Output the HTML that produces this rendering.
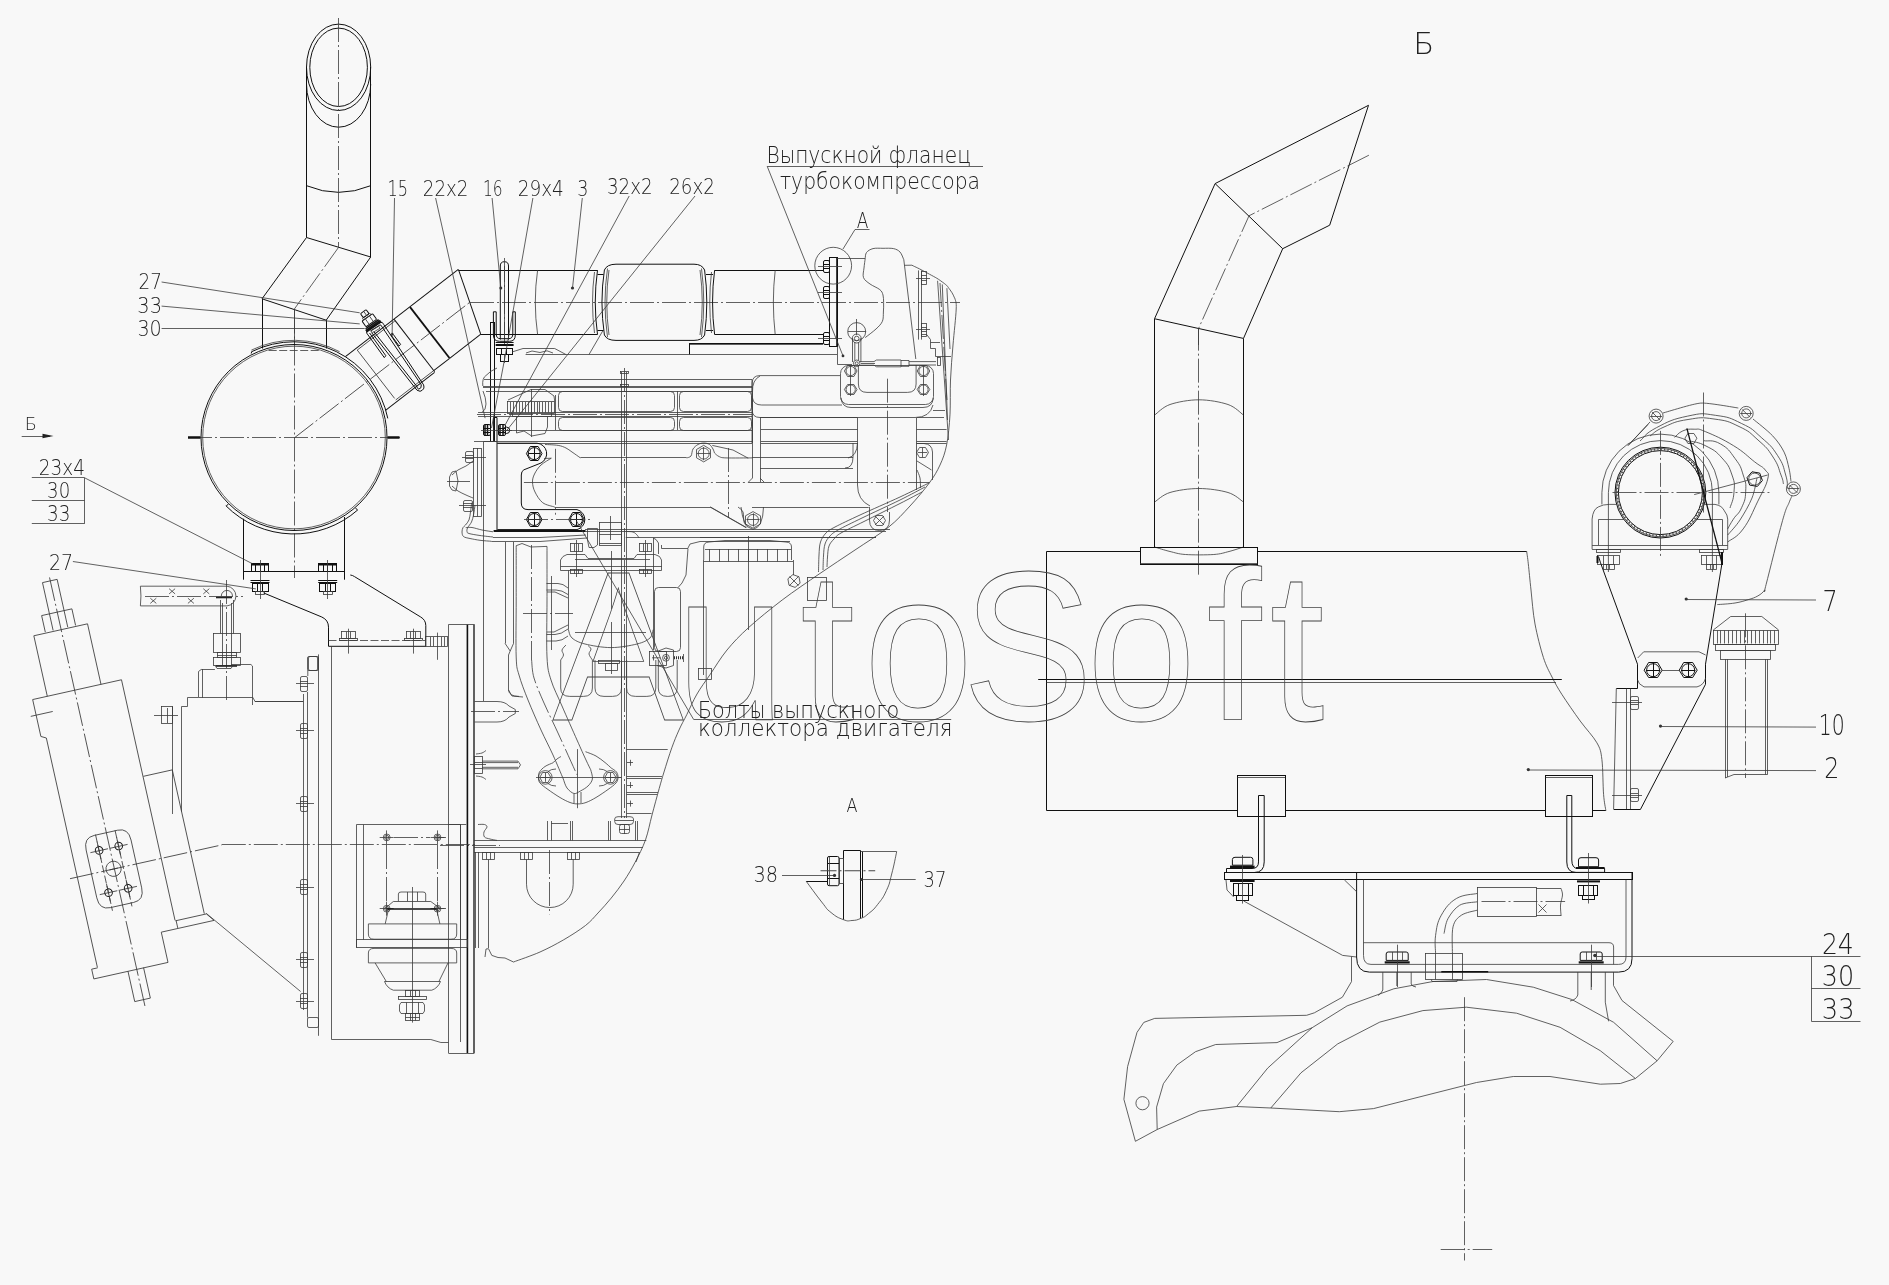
<!DOCTYPE html>
<html><head><meta charset="utf-8"><title>Drawing</title>
<style>
html,body{margin:0;padding:0;background:#f8f8f8;overflow:hidden}
svg{display:block;opacity:0.999;will-change:transform}
.m{fill:none;stroke:#111;stroke-width:1}
.t{fill:none;stroke:#3a3a3a;stroke-width:0.8}
.c{fill:none;stroke:#3a3a3a;stroke-width:0.8;stroke-dasharray:24 3 2 3}
.cs{fill:none;stroke:#3a3a3a;stroke-width:0.8;stroke-dasharray:8 2.5}
text{font-family:"DejaVu Sans Light","DejaVu Sans ExtraLight","Liberation Sans",sans-serif;font-weight:200;fill:#222}
.wm{font-family:"Liberation Sans",sans-serif;font-weight:400;fill:none;stroke:#444;stroke-width:0.8}
</style></head><body>
<svg width="1889" height="1285" viewBox="0 0 1889 1285">
<rect width="1889" height="1285" fill="#f8f8f8"/>
<path class="m" d="M306.5 84 A32.1 43.2 0 0 0 370.7 84"/>
<ellipse class="m" style="fill:#f8f8f8" cx="338.6" cy="67.3" rx="32.1" ry="43.2"/>
<ellipse class="m" cx="338.6" cy="67.3" rx="28.8" ry="39.2" />
<path class="m" d="M306.5 67 L306.5 237.5"/>
<path class="m" d="M370.5 67 L370.5 257"/>
<path class="m" d="M306.5 185.7 Q338.6 199 370.7 185.7"/>
<path class="m" d="M306.5 237.5 L370.7 257"/>
<path class="m" d="M306.5 237.5 L262 298.8"/>
<path class="m" d="M370.7 257 L326.2 320.2"/>
<path class="m" d="M262 298.8 L326.2 320.2"/>
<path class="m" d="M262.5 298.8 L262.5 348.5"/>
<path class="m" d="M326.5 320.2 L326.5 348.5"/>
<path class="c" d="M338.5 18 L338.5 247.3"/>
<path class="c" d="M338.6 247.3 L294 309.5"/>
<path class="c" d="M294.5 309.5 L294.5 578"/>
<path class="t" d="M294.5 309.5 L294.5 345"/>
<circle class="m" cx="294" cy="437.5" r="93"/>
<circle class="t" cx="294" cy="437.5" r="91.3"/>
<path class="m" d="M252 351.5 A95.7 95.7 0 0 1 387.8 418.4"/>
<path class="t" d="M251.4 350.1 A97.2 97.2 0 0 1 339.6 351.7"/>
<path class="m" d="M251.8 351.3 L251.2 353.5"/>
<path class="cs" d="M268.7 350.5 L320.6 350.5"/>
<path class="c" d="M188 437.5 L400 437.5"/>
<path d="M188 437.5 H200.5 M387.5 437.5 H399.5" stroke="#111" stroke-width="2.6" fill="none"/>
<path class="m" d="M357.9 509.8 A96.5 96.5 0 0 1 225.8 505.7"/>
<path class="m" d="M226.4 506 L228.3 504"/>
<path class="m" d="M357.2 509.9 L355.5 507.8"/>
<path class="m" d="M243.5 518.7 L243.5 579.7"/>
<path class="m" d="M344.5 517 L344.5 579.7"/>
<path class="m" d="M243.2 571.5 L344.7 571.5"/>
<rect class="m" x="251.5" y="563.5" width="17" height="8"/>
<path class="m" d="M255.5 563.3 L255.5 571.1"/>
<path class="m" d="M260.5 563.3 L260.5 571.1"/>
<path class="m" d="M264.5 563.3 L264.5 571.1"/>
<path d="M251.2 564.5 H268.8" stroke="#111" stroke-width="2" fill="none"/>
<path class="m" d="M250.5 580.5 L269.5 580.5"/>
<path class="m" d="M250.5 582.5 L269.5 582.5"/>
<rect class="m" x="252.5" y="583.5" width="16" height="8"/>
<path class="m" d="M257.5 583 L257.5 591.4"/>
<path class="m" d="M262.5 583 L262.5 591.4"/>
<rect class="t" x="255.5" y="591.5" width="9" height="3"/>
<path class="t" d="M260.5 560 L260.5 599"/>
<rect class="m" x="318.5" y="563.5" width="18" height="8"/>
<path class="m" d="M323.5 563.3 L323.5 571.1"/>
<path class="m" d="M327.5 563.3 L327.5 571.1"/>
<path class="m" d="M332.5 563.3 L332.5 571.1"/>
<path d="M318.9 564.5 H336.5" stroke="#111" stroke-width="2" fill="none"/>
<path class="m" d="M318.2 580.5 L337.2 580.5"/>
<path class="m" d="M318.2 582.5 L337.2 582.5"/>
<rect class="m" x="319.5" y="583.5" width="16" height="8"/>
<path class="m" d="M325.5 583 L325.5 591.4"/>
<path class="m" d="M330.5 583 L330.5 591.4"/>
<rect class="t" x="323.5" y="591.5" width="9" height="3"/>
<path class="t" d="M327.5 560 L327.5 599"/>
<g transform="translate(294 437.5) rotate(-37.7)">
<path class="m" d="M90.1 -32.5 L232.8 -32.5"/>
<path class="m" d="M211 32.5 L171.6 32.5"/>
<path d="M171.6 -32.2 V32.2" stroke="#111" stroke-width="1.8" fill="none"/>
<path class="m" d="M151.5 -32.2 L151.5 34"/>
<path class="m" d="M171.6 32.5 L151 32.5"/>
<path class="m" d="M151 34.5 L89 34.5"/>
<path class="t" d="M151 32.5 L103.4 32.5"/>
<path class="t" d="M103.5 -30.5 L103.5 30.6"/>
<path class="t" d="M103.4 -30.5 L151 -30.5"/>
<path class="c" d="M0 0.5 L222 0.5"/>
<path class="m" d="M232.8 -32.2 L211 32.2"/>
</g>
<path class="m" d="M384.3 357.6 L366.7 333.1 Q366 330.8 368.3 329.6 L380 322.6 Q382.7 321.4 383.6 324.3 L423.6 384.9 Q425.2 389.6 420.1 391.3 Q416.6 391.1 414.6 387.2 L371.5 332.5"/>
<path class="m" d="M385.8 355.7 L369.6 333 M370.4 331 L380 324.9 Q381 324.7 381.5 326.1 L421.3 384.9 Q421.8 388.6 418.5 389.2 Q417.3 388 416.6 386.1 L373.8 331.5"/>
<path class="m" d="M384.3 357.6 L385.8 355.7"/>
<path class="t" d="M371 330.8 L378.8 326.3 L380 328.2 L372.6 332.7 Z"/>
<path class="m" d="M390.5 334.3 L399.1 346 L400.6 344.4 L393.2 334.3"/>
<g transform="translate(374.5 327.6) rotate(-125)">
<path d="M1 -9 V9 M2.6 -9 V9 M4.2 -8 V8" stroke="#111" stroke-width="1.5" fill="none"/>
<rect class="m" x="5.5" y="-6.5" width="7" height="13" rx="1"/>
<path class="t" d="M5 -2.5 L12 -2.5"/>
<path class="t" d="M5 2.5 L12 2.5"/>
<rect class="t" x="12.5" y="-4.5" width="2" height="9"/>
<rect class="m" x="14.5" y="-3.5" width="5" height="7" rx="1"/>
<path class="t" d="M14 0.5 L19.5 0.5"/>
</g>
<path class="m" d="M458.5 270.5 L597.5 270.5"/>
<path class="m" d="M480.6 334.5 L597.5 334.5"/>
<path class="c" d="M470 302.5 L960 302.5"/>
<path class="t" d="M537.6 270.2 Q533 302 537.6 334.5"/>
<path class="m" d="M597.5 270.2 Q593 302 597.5 334.5"/>
<path class="t" d="M594.5 272 Q590.5 302 594.5 333"/>
<path class="m" d="M597.5 274.5 L603.5 274.5"/>
<path class="m" d="M597.5 330.5 L603.5 330.5"/>
<path class="m" d="M604.4 270 Q599.5 302 604.4 335"/>
<path class="t" d="M607.5 268.5 Q602.5 302 607.5 337"/>
<path class="t" d="M609 270 Q604.5 302 609 335"/>
<path class="m" d="M604.4 270 Q607 264.2 616 264.2 H694 Q702 264.2 704.6 270"/>
<path class="m" d="M604.4 335 Q607 340.4 616 340.4 H694 Q702 340.4 704.6 335"/>
<path class="m" d="M704.6 270 Q709 302 704.6 335"/>
<path class="t" d="M701.5 268.5 Q706 302 701.5 337"/>
<path class="t" d="M700 270 Q704.5 302 700 335"/>
<path class="m" d="M706 274.5 L713 274.5"/>
<path class="m" d="M706 330.5 L713 330.5"/>
<path class="m" d="M714.6 270.3 Q710.5 302 714.6 334.5"/>
<path class="t" d="M711.5 272 Q708 302 711.5 333"/>
<path class="m" d="M714.6 270.5 L823 270.5"/>
<path class="m" d="M714.6 334.5 L823 334.5"/>
<path class="t" d="M775.2 270.3 Q771.5 302 775.2 334.5"/>
<rect class="m" x="829.5" y="257.5" width="8" height="89"/>
<path d="M837 258 V346.5" stroke="#111" stroke-width="1.6" fill="none"/>
<rect class="m" x="823.5" y="260.5" width="6" height="12" rx="1.5"/>
<path class="m" d="M823 264.5 L829.3 264.5"/>
<path class="m" d="M823 268.5 L829.3 268.5"/>
<path class="t" d="M818 266.5 L842 266.5"/>
<rect class="m" x="823.5" y="286.5" width="6" height="12" rx="1.5"/>
<path class="m" d="M823 290.5 L829.3 290.5"/>
<path class="m" d="M823 294.5 L829.3 294.5"/>
<path class="t" d="M818 292.5 L842 292.5"/>
<rect class="m" x="823.5" y="332.5" width="6" height="12" rx="1.5"/>
<path class="m" d="M823 336.5 L829.3 336.5"/>
<path class="m" d="M823 340.5 L829.3 340.5"/>
<path class="t" d="M818 338.5 L842 338.5"/>
<circle class="t" cx="833.2" cy="265.7" r="18.4"/>
<path class="t" d="M843 249 L855 229.5 L869.5 229.5"/>
<path class="m" d="M689.1 343.5 L823 343.5"/>
<path class="t" d="M689.1 344.5 L823 344.5"/>
<path class="m" d="M689.5 343.4 L689.5 354.5"/>
<path class="m" d="M500.3 339.6 V266 Q500.3 261.7 504.4 261.7 Q508.5 261.7 508.5 266 V339.6"/>
<path class="t" d="M504.5 266 L504.5 339.6"/>
<path class="c" d="M504.5 258 L504.5 345"/>
<path class="m" d="M493.4 311.8 V335 Q493.4 341.3 499.5 341.3 H509.5 Q515.3 341.3 515.3 335 V311.8 H512.8 V334 Q512.8 338.7 508.5 338.7 H500.5 Q496.2 338.7 496.2 334 V311.8 Z"/>
<path class="m" d="M495.7 342.5 L513.6 342.5"/>
<path class="m" d="M495.7 344.5 L513.6 344.5"/>
<path class="m" d="M495.7 345.5 L513.6 345.5"/>
<rect class="m" x="496.5" y="348.5" width="16" height="6"/>
<path class="m" d="M501.5 348.2 L501.5 354.2"/>
<path class="m" d="M506.5 348.2 L506.5 354.2"/>
<rect class="m" x="500.5" y="354.5" width="8" height="7"/>
<path class="t" d="M504.5 354.2 L504.5 363"/>
<rect class="m" x="490.5" y="322.5" width="4" height="119"/>
<path class="m" d="M497 417.5 V531 M493.6 417.5 V441.5 M493.6 417.5 H497"/>
<rect class="m" x="483.5" y="424.5" width="7" height="11" rx="1.5"/>
<path class="m" d="M483.5 428.5 L490 428.5"/>
<path class="m" d="M483.5 432.5 L490 432.5"/>
<rect class="m" x="498.5" y="424.5" width="7" height="11" rx="1.5"/>
<path class="m" d="M498.5 428.5 L505.5 428.5"/>
<path class="m" d="M498.5 432.5 L505.5 432.5"/>
<path d="M485 425 V436 M487.5 425 V436 M500 425 V436 M503 425 V436" stroke="#111" stroke-width="1.5" fill="none"/>
<circle class="m" cx="506.5" cy="430.3" r="3.2"/>
<path class="t" d="M481 430.5 L512 430.5"/>
<path class="t" d="M837 258.5 L865.2 258.5"/>
<path class="t" d="M865.2 258.5 C865.4 257.5 865.2 254.2 866.5 252.5 C867.8 250.8 870.2 249.3 873 248.6 C875.8 247.9 879.6 248.3 883 248.3 C886.4 248.3 890.7 248 893.5 248.6 C896.3 249.2 898.3 250.2 900 252 C901.7 253.8 903.2 258.4 903.8 259.7"/>
<path class="t" d="M903.8 259.7 L915.8 359"/>
<path class="t" d="M865.2 258.5 C865 260.1 864.3 264.8 864 268 C863.7 271.2 862.5 274.9 863.5 277.6 C864.5 280.3 867.3 282 870 284 C872.7 286 877.6 287.8 879.8 289.6 C882 291.4 882.4 292.9 883 295 C883.6 297.1 883.5 299.7 883.6 302.5 C883.7 305.3 883.6 308.9 883.4 312 C883.2 315.1 883.6 318.5 882.4 321.3 C881.2 324.1 878.9 326.3 876 329 C873.1 331.7 867 336.2 865.2 337.6"/>
<path class="t" d="M904.6 265.3 L911.9 265.2"/>
<path class="t" d="M911.9 265.2 C915.8 267.2 918.6 268.2 926.7 272.7 C934.8 277.2 936.1 277.4 942.3 282 C948.5 286.6 946.6 285.3 950 289.8 C953.4 294.3 953.7 296.5 955.1 299"/>
<path class="t" d="M955.1 299 C955.3 300.7 956.6 301.3 956.2 309 C955.9 316.7 954 333.2 953 345 C952 356.8 951 368.5 950.5 380 C950 391.5 950.6 403.4 950 414.2 C949.4 425 948.3 436.5 946.6 445 C944.9 453.5 942.9 458.7 940 465 C937.1 471.3 934.5 475.9 929.5 482.7 C924.5 489.5 916.9 498.6 910 506 C903.1 513.4 897.6 520 888.4 527.3 C879.2 534.6 866.4 542.3 855 550 C843.6 557.7 832 565.2 819.9 573.5 C807.8 581.8 794.1 591 782.2 600 C770.4 609 758 619.1 748.8 627.4 C739.6 635.7 733.4 642.2 727 650 C720.6 657.8 715.3 666.9 710.3 674.2 C705.3 681.5 700.9 687.3 697 694 C693.1 700.7 689.9 708.4 686.9 714.4 C683.9 720.4 681.5 724.4 679 730 C676.5 735.6 674.3 740.8 671.8 747.8 C669.3 754.8 666.1 765.2 664 772 C661.9 778.8 661.2 781.3 659.2 788.5 C657.2 795.7 654.3 806.4 652 815 C649.7 823.6 648.3 832 645.5 839.9 C642.7 847.8 638.8 855.2 635.2 862.1 C631.6 869 628 875 624 881 C620 887 615.5 892.8 611.2 898.1 C606.9 903.4 602.3 908.4 598 913 C593.7 917.6 591.3 921 585.5 925.5 C579.7 930 570.9 935.6 563.3 940 C555.7 944.4 548.3 948.3 540 952 C531.7 955.7 517.9 960.3 513.5 962"/>
<path class="t" d="M513.5 962 L505 958 L498 957.5 L491.8 955.4 L488.5 948.7 L486 949 L485 957"/>
<path class="t" d="M918.5 270.4 L918.5 339.6"/>
<path class="t" d="M921.5 270.4 L921.5 339.6"/>
<rect class="t" x="921.5" y="271.5" width="5" height="13"/>
<path class="t" d="M916 278.5 L930 278.5"/>
<path class="t" d="M921.2 275.5 L926.7 275.5"/>
<path class="t" d="M921.2 280.5 L926.7 280.5"/>
<rect class="t" x="921.5" y="323.5" width="5" height="13"/>
<path class="t" d="M916 329.5 L930 329.5"/>
<path class="t" d="M921.2 327.5 L926.7 327.5"/>
<path class="t" d="M921.2 331.5 L926.7 331.5"/>
<path class="t" d="M921.2 334.5 L926.7 334.5 L930.5 339.6 L930.5 348.5 L935.5 348.5 L935.5 356.5 L951 356.5"/>
<path class="t" d="M930.6 342.5 L940 342.5"/>
<path class="t" d="M937.6 280.8 L948.5 440"/>
<path class="t" d="M942.3 284.4 L947.5 420"/>
<path class="t" d="M946.9 288.2 L950 349"/>
<path class="c" d="M940 283 L947 400"/>
<rect class="t" x="937.5" y="357.5" width="3" height="8"/>
<circle class="t" cx="856.7" cy="331.6" r="9"/>
<circle class="t" cx="856.7" cy="338.5" r="4.5"/>
<circle class="t" cx="856.7" cy="338.5" r="2.3"/>
<path class="t" d="M852.5 338 V362 M860.9 338 V362 M854.8 342 V360 M858.6 342 V360"/>
<circle class="t" cx="856.7" cy="363.3" r="3.3"/>
<circle class="t" cx="856.7" cy="363.3" r="1.5"/>
<path class="t" d="M856.5 319 L856.5 335"/>
<path class="t" d="M848 331.5 L866 331.5"/>
<path class="t" d="M860 361.6 H874 L876.5 360 H901 V366.8 H876.5 L874 365.2 H860 M901 360.5 H909 V366.3 H901 M909 361.6 H936 M909 365 H936"/>
<path class="t" d="M861 363.5 L875 363.5"/>
<path class="t" d="M837.5 346.5 L837.5 364.5 L852 364.5"/>
<rect class="t" x="840.5" y="365.5" width="93" height="39" rx="8"/>
<path class="t" d="M841 398 Q842 407.5 851 407.5 H923 Q932.5 407.5 933.3 398"/>
<path class="t" d="M858.4 365 V384 Q858.4 392.4 867 392.4 H907.5 Q916.1 392.4 916.1 384 V365"/>
<path class="t" d="M857 371 L853.9 376.5 L847.6 376.5 L844.4 371 L847.6 365.5 L853.9 365.5 Z"/>
<circle class="t" cx="850.7" cy="371" r="4.6"/>
<path class="t" d="M857 389.5 L853.9 394.5 L847.6 394.5 L844.4 389.5 L847.6 384.5 L853.9 384.5 Z"/>
<circle class="t" cx="850.7" cy="389.5" r="4.6"/>
<path class="t" d="M850.5 366 L850.5 396"/>
<path class="t" d="M929.8 371 L926.6 376.5 L920.4 376.5 L917.2 371 L920.4 365.5 L926.6 365.5 Z"/>
<circle class="t" cx="923.5" cy="371" r="4.6"/>
<path class="t" d="M929.8 389.5 L926.6 394.5 L920.4 394.5 L917.2 389.5 L920.4 384.5 L926.6 384.5 Z"/>
<circle class="t" cx="923.5" cy="389.5" r="4.6"/>
<path class="t" d="M923.5 366 L923.5 396"/>
<path class="c" d="M887.5 378.7 L887.5 512"/>
<path class="t" d="M840 375.6 H760 Q752.2 375.6 752.2 383 V410 Q752.2 417.5 760 417.5 H915 Q930 417.5 933 405"/>
<path class="t" d="M752.5 398 Q753.5 405 761.6 405 H842"/>
<path class="t" d="M760 417.5 L857.5 417.5"/>
<path class="t" d="M760.5 417.9 L760.5 482"/>
<path class="t" d="M752.5 417.9 L752.5 478"/>
<path class="t" d="M857.5 417.9 L857.5 470"/>
<path class="t" d="M916.5 417.9 L916.5 490"/>
<path class="t" d="M916.6 417.5 L944 417.5"/>
<path class="t" d="M933 410.5 L945 410.5"/>
<path class="t" d="M525.6 354.5 L837 354.5"/>
<path class="t" d="M512 352 L523 348.5 L554.7 348.5 L565.9 354.5"/>
<path class="t" d="M526 353 L532 351 L540 352.5 L547 350.8 L553 353"/>
<path class="t" d="M482.8 386 Q482 378 486 375.5 Q490 371 497 368"/>
<path class="t" d="M484 379.5 L752 379.5"/>
<path class="t" d="M483 386.5 L752 386.5"/>
<path class="t" d="M483 387.5 L752 387.5"/>
<path class="t" d="M486 391.5 L752 391.5"/>
<path class="t" d="M478 412.5 L752 412.5"/>
<path class="c" d="M477 414.5 L752 414.5"/>
<path class="t" d="M478 416.5 L752 416.5"/>
<path class="t" d="M497 430.5 L752 430.5"/>
<path class="t" d="M483.7 441.5 L752 441.5"/>
<path class="t" d="M497 443.5 L752 443.5"/>
<path class="t" d="M483 391 Q486 398 486 404 Q486 410 482 412.4"/>
<rect class="t" x="558.5" y="391.5" width="116" height="20" rx="4"/>
<rect class="t" x="679.5" y="391.5" width="72" height="20" rx="4"/>
<rect class="t" x="558.5" y="417.5" width="116" height="13" rx="4"/>
<rect class="t" x="679.5" y="417.5" width="72" height="13" rx="4"/>
<path class="t" d="M555.5 395 L555.5 430"/>
<path class="t" d="M677.5 391 L677.5 430"/>
<path class="t" d="M752 379.5 V443"/>
<path class="t" d="M760 376 Q752 380 752.5 392 V443"/>
<rect class="t" x="507.5" y="401.5" width="47" height="12"/>
<path class="t" d="M510.5 402 L510.5 412.5"/>
<path class="t" d="M513.5 402 L513.5 412.5"/>
<path class="t" d="M516.5 402 L516.5 412.5"/>
<path class="t" d="M519.5 402 L519.5 412.5"/>
<path class="t" d="M522.5 402 L522.5 412.5"/>
<path class="t" d="M525.5 402 L525.5 412.5"/>
<path class="t" d="M528.5 402 L528.5 412.5"/>
<path class="t" d="M531.5 402 L531.5 412.5"/>
<path class="t" d="M534.5 402 L534.5 412.5"/>
<path class="t" d="M537.5 402 L537.5 412.5"/>
<path class="t" d="M539.5 402 L539.5 412.5"/>
<path class="t" d="M542.5 402 L542.5 412.5"/>
<path class="t" d="M545.5 402 L545.5 412.5"/>
<path class="t" d="M548.5 402 L548.5 412.5"/>
<path class="t" d="M551.5 402 L551.5 412.5"/>
<path class="t" d="M508 400 L531 389.5 L545 389.5 L554 396 L554.7 401.2"/>
<path class="t" d="M512.5 413.2 L512.5 416.5 L551.5 416.5 L551.5 413.2"/>
<path class="t" d="M516.5 416.5 L516.5 433 L524 431 L531.6 436 L545 433.5 L547.5 427 L547.5 416.5"/>
<path class="t" d="M531.5 389 L531.5 437"/>
<path class="t" d="M621.5 372 L621.5 818"/>
<path class="t" d="M626.5 372 L626.5 818"/>
<path class="c" d="M624.5 368 L624.5 818"/>
<rect class="t" x="620.5" y="371.5" width="8" height="2"/>
<rect class="t" x="620.5" y="384.5" width="8" height="2"/>
<path class="t" d="M474 441.5 L497 441.5"/>
<path class="m" d="M497.4 443.2 H537 A10.5 10.5 0 0 1 541 463 L523.9 469.8 Q521.3 471 521.3 475 V503 Q521.3 509.6 528 509.6 H577 A10.3 10.3 0 0 1 577 529.6 H497.4"/>
<path d="M493.6 531 H585.5" stroke="#111" stroke-width="2.2" fill="none"/>
<path class="m" d="M542 453.6 L538.1 460.5 L530.3 460.5 L526.4 453.6 L530.3 446.5 L538.1 446.5 Z"/>
<circle class="m" cx="534.2" cy="453.6" r="6"/>
<path class="m" d="M528 453.5 L540.4 453.5"/>
<path class="m" d="M534.5 447.4 L534.5 459.8"/>
<path class="m" d="M542 519.5 L538.1 526.5 L530.3 526.5 L526.4 519.5 L530.3 512.5 L538.1 512.5 Z"/>
<circle class="m" cx="534.2" cy="519.5" r="6"/>
<path class="m" d="M528 519.5 L540.4 519.5"/>
<path class="m" d="M534.5 513.3 L534.5 525.7"/>
<path class="m" d="M584.3 519.5 L580.4 526.5 L572.6 526.5 L568.7 519.5 L572.6 512.5 L580.4 512.5 Z"/>
<circle class="m" cx="576.5" cy="519.5" r="6"/>
<path class="m" d="M570.3 519.5 L582.7 519.5"/>
<path class="m" d="M576.5 513.3 L576.5 525.7"/>
<path class="c" d="M524 519.5 L590 519.5"/>
<path class="t" d="M483.5 441.6 L483.5 701"/>
<rect class="t" x="473.5" y="448.5" width="8" height="68"/>
<path class="t" d="M477.5 448 L477.5 516.4"/>
<rect class="t" x="465.5" y="451.5" width="8" height="11" rx="1.5"/>
<path class="t" d="M465.7 455.5 L473.2 455.5"/>
<path class="t" d="M465.7 458.5 L473.2 458.5"/>
<rect class="t" x="463.5" y="500.5" width="9" height="11" rx="1.5"/>
<path class="t" d="M463 503.5 L472.5 503.5"/>
<path class="t" d="M463 507.5 L472.5 507.5"/>
<path class="t" d="M462 457.5 L486 457.5"/>
<path class="t" d="M459 505.5 L486 505.5"/>
<path class="t" d="M473 461 C471.8 461.8 468.5 464.5 466 466 C463.5 467.5 460.3 468.5 458 470 C455.7 471.5 453 474.2 452 475"/>
<path class="t" d="M473 498 C471.8 497.5 468.5 496.2 466 495 C463.5 493.8 460.3 492.5 458 491 C455.7 489.5 453 486.8 452 486"/>
<path class="t" d="M452 472 L449.5 477 L449.5 486 L452 490 L456 491 L458 481 L456 471 L452 472"/>
<path class="t" d="M447 481.5 L470 481.5"/>
<path class="t" d="M471.7 502.7 C471.5 504.2 470.9 509.1 470.5 512 C470.1 514.9 469.8 517.7 469 519.9 C468.2 522.1 466.5 523.7 465.5 525 C464.5 526.3 463.6 526.4 463 527.6 C462.4 528.8 461.9 530.5 462 532 C462.1 533.5 462.2 535.4 463.5 536.5 C464.8 537.6 467.2 537.9 470 538.5 C472.8 539.1 476.4 539.8 480 540.3 C483.6 540.8 489.5 541.1 491.4 541.3"/>
<path class="t" d="M475 505 C474.8 506.7 474.1 512.2 473.5 515 C472.9 517.8 472.5 519.8 471.5 522 C470.5 524.2 468.2 526.4 467.5 528 C466.8 529.6 466.8 530.6 467 531.5 C467.2 532.4 466.8 532.8 469 533.5 C471.2 534.2 476 534.9 480 535.5 C484 536.1 490.8 536.8 493 537"/>
<path class="t" d="M465.7 527.6 C466.8 527.6 469.3 527.1 472 527.5 C474.7 527.9 478.5 529.3 482 530 C485.5 530.7 491.2 531.5 493 531.8"/>
<path class="t" d="M491.4 541.5 L540 541.5 L587 538"/>
<path class="t" d="M493 537.5 L540 537.5 L586 535"/>
<path class="t" d="M580.4 457.5 L686.6 457.5"/>
<path class="t" d="M554.7 507.5 L710.5 507.5"/>
<path class="t" d="M580.4 457.9 C579 456.9 574.4 453.6 572 452 C569.6 450.4 568.3 449.1 566 448 C563.7 446.9 561.7 446 558.2 445.4 C554.7 444.8 547.2 444.6 545 444.5"/>
<path class="t" d="M551.3 458.2 C549.6 459.3 543.8 462.4 541 465 C538.2 467.6 535.9 471.1 534.5 474 C533.1 476.9 532.4 479.2 532.5 482.2 C532.6 485.2 533.3 488.6 535 492 C536.7 495.4 539.4 500.2 542.7 502.7 C546 505.2 552.7 506.3 554.7 507"/>
<path class="t" d="M544 458.5 L551.3 458.2"/>
<path class="c" d="M523.9 482.5 L929.5 482.5"/>
<path class="c" d="M555.5 448.8 L555.5 514.7"/>
<path class="c" d="M728.5 448 L728.5 518"/>
<path class="t" d="M710.5 457.8 L703.7 461.9 L696.5 457.8 L696.5 449.5 L703.7 445.3 L710.5 449.5 Z"/>
<circle class="t" cx="703.7" cy="453.6" r="5.5"/>
<path class="t" d="M697.1 453.5 L710.3 453.5"/>
<path class="t" d="M703.5 447 L703.5 460.2"/>
<path class="t" d="M686.6 457.9 C687.3 457.6 689.9 457.5 691 456 C692.1 454.5 691.8 450.9 693 449 C694.2 447.1 696.2 445.5 698 444.5 C699.8 443.5 701.8 443 703.7 443 C705.6 443 708 443.5 709.5 444.5 C711 445.5 712.2 447.6 713 449 C713.8 450.4 714.2 452.3 714.5 453"/>
<path class="t" d="M712.3 445.4 L733 450 L748.2 458.2"/>
<path class="t" d="M714.5 453 C715.2 453.6 717.1 455.7 719 456.5 C720.9 457.3 720.5 457.7 726 457.9 C731.5 458.1 747.7 457.9 752 457.9"/>
<path class="t" d="M760.5 524 L753 528.2 L745.5 524 L745.5 515.8 L753 511.6 L760.5 515.8 Z"/>
<circle class="t" cx="753" cy="519.9" r="5.5"/>
<path class="t" d="M746.4 519.5 L759.6 519.5"/>
<path class="t" d="M753.5 513.3 L753.5 526.5"/>
<path class="t" d="M710.5 507 L746.5 527.6"/>
<path class="t" d="M738 507 C738.8 507.8 742 509.5 743 512 C744 514.5 743.2 519.4 744 522 C744.8 524.6 747.3 526.6 748 527.5"/>
<path class="t" d="M585 529.5 L890 529.5"/>
<path class="t" d="M585 531.5 L886 531.5"/>
<path class="t" d="M625.8 537.5 L876 537.5"/>
<path class="t" d="M752 457.5 L853 457.5"/>
<path class="t" d="M752 507.5 L868.7 507.5"/>
<path class="t" d="M760 468.5 L853 468.5"/>
<path class="t" d="M853 443 V457 Q853 468 845 468"/>
<path class="t" d="M760.8 429.5 L857.5 429.5"/>
<path class="t" d="M916.6 429.5 L946.6 429.5"/>
<path class="t" d="M760.8 441.5 L857.5 441.5"/>
<path class="t" d="M916.6 441.5 L946.6 441.5"/>
<path class="t" d="M760.8 443.5 L857.5 443.5"/>
<path class="t" d="M916.6 443.5 L946.6 443.5"/>
<path class="t" d="M602.7 331 L589 354.5"/>
<path class="t" d="M587.5 528.5 L597.5 528.5 L597.5 545 L594 547.5 L589 547.5 L587.5 540 Z"/>
<rect class="t" x="599.5" y="522.5" width="22" height="23"/>
<path class="t" d="M599.2 534.5 L621.5 534.5"/>
<path class="t" d="M599.2 543.5 L621.5 543.5"/>
<path class="t" d="M610.5 516 L610.5 540"/>
<path class="t" d="M625.8 531.5 C627 531.6 631.1 531.4 633 532 C634.9 532.6 636 534 637 535 C638 536 638.7 537.5 639 538"/>
<path class="t" d="M560.5 570.5 L560.5 560 L563 556.5 L567 554.5 L585 554.5 L588 558.5 L634 558.5 L637 554.5 L655 554.5 L659.5 556.5 L661.5 560 L661.5 570.5 Z"/>
<path class="t" d="M575 559.5 L650 559.5"/>
<path class="t" d="M560.7 566.5 L661.7 566.5"/>
<rect class="t" x="570.5" y="543.5" width="12" height="8"/>
<path class="t" d="M574.5 543.8 L574.5 551.5"/>
<path class="t" d="M578.5 543.8 L578.5 551.5"/>
<rect class="t" x="570.5" y="569.5" width="12" height="4"/>
<path class="t" d="M574.5 569.5 L574.5 573.8"/>
<path class="t" d="M578.5 569.5 L578.5 573.8"/>
<path class="t" d="M576.5 540 L576.5 577"/>
<rect class="t" x="639.5" y="543.5" width="12" height="8"/>
<path class="t" d="M643.5 543.8 L643.5 551.5"/>
<path class="t" d="M647.5 543.8 L647.5 551.5"/>
<rect class="t" x="639.5" y="569.5" width="12" height="4"/>
<path class="t" d="M643.5 569.5 L643.5 573.8"/>
<path class="t" d="M647.5 569.5 L647.5 573.8"/>
<path class="t" d="M645.5 540 L645.5 577"/>
<path class="t" d="M653.2 538 L656 539.5 L658.5 543 L658.5 554"/>
<path class="t" d="M653.5 538 L653.5 650"/>
<path class="t" d="M505.5 542 L505.5 643.3"/>
<path class="t" d="M513.5 542 L513.5 643.3"/>
<path class="t" d="M505 643.3 L510.2 651 L508.5 655 L508.5 690 L512 696 L523 697"/>
<path class="t" d="M513.6 643.3 L510.2 651"/>
<path class="c" d="M531.5 545 L531.5 660"/>
<path class="t" d="M516.2 545.7 C516.2 554.8 516.2 581.5 516.2 600 C516.2 618.5 515.7 644.5 516.2 657 C516.7 669.5 517 667.8 519 675 C521 682.2 524.3 690.8 528 700 C531.7 709.2 536.8 720.8 541 730 C545.2 739.2 549.3 746.8 553 755 C556.7 763.2 561.6 775 563.3 779"/>
<path class="t" d="M547 546.4 C547 555.3 547 581.6 547 600 C547 618.4 546.3 643.7 547 657 C547.7 670.3 548.5 671.8 551 680 C553.5 688.2 557.7 696 562 706 C566.3 716 573 731 577 740 C581 749 583.7 755 586 760 C588.3 765 589.9 768.1 590.7 769.7"/>
<path class="c" d="M531.6 660 C532 663 531.9 670.8 534 678 C536.1 685.2 540 693.8 544 703 C548 712.2 552.5 721 558 733 C563.5 745 573.8 767.8 577 774.8"/>
<path class="t" d="M516.2 545.7 L522 543.5 L531 547 L547 546.4"/>
<path class="t" d="M568.5 570.4 L568.5 629.6"/>
<path class="t" d="M568.4 629.6 C569 631 569.2 635.6 572 638 C574.8 640.4 578.5 642.4 585 644 C591.5 645.6 602.3 647.6 611 647.6 C619.7 647.6 630.5 645.6 637 644 C643.5 642.4 647.3 640.4 650 638 C652.7 635.6 652.7 631 653.2 629.6"/>
<path class="t" d="M611.5 551 L611.5 609"/>
<path class="t" d="M611.5 622 L611.5 674"/>
<path class="t" d="M575 632.5 L646 632.5"/>
<path class="t" d="M546.5 583.5 H558 Q563 583.5 568 588 M546.5 590 H556 Q562 590 568 594.5 M547 592 H555 L568 598"/>
<path class="t" d="M546.5 641 H556 Q562 641 568 636 M546.5 634.5 H555 Q561 634.5 568 629 M547 632 H554 L568 625"/>
<path class="t" d="M551.5 576 L551.5 650"/>
<path class="c" d="M523 613.5 L573 613.5"/>
<rect class="t" x="598.5" y="660.5" width="21" height="3"/>
<rect class="t" x="605.5" y="663.5" width="12" height="7"/>
<path class="t" d="M560.7 660 V688 Q560.7 696.4 569.7 696.4 H583.4 Q592.4 696.4 592.4 688 V660"/>
<path class="t" d="M595 660 V688 Q595 696.4 604 696.4 H612.5 Q621.5 696.4 621.5 688 V660"/>
<path class="t" d="M626.6 660 V688 Q626.6 696.4 635.6 696.4 H646.8 Q655.8 696.4 655.8 688 V660"/>
<path class="t" d="M658.3 660 V688 Q658.3 696.4 667.3 696.4 H668.2 Q677.2 696.4 677.2 688 V660"/>
<path class="t" d="M508.5 690 Q509 696.4 519 696.4"/>
<path class="t" d="M560.7 660 C561.2 659.2 563.3 656.7 563.5 655 C563.7 653.3 561.6 651.7 562 650 C562.4 648.3 565.3 645.8 566 645"/>
<path class="t" d="M592.4 660 C591.8 659 589.2 655.8 589 654 C588.8 652.2 591.2 650.4 591 649 C590.8 647.6 588.5 646.1 588 645.5"/>
<rect class="t" x="654.5" y="587.5" width="26" height="64" rx="4"/>
<path class="t" d="M661.5 545 L661.5 548.5 L688 548.5 L686 575 L682 583 L678 587.6"/>
<rect class="t" x="698.5" y="668.5" width="13" height="11"/>
<rect class="t" x="649.5" y="651.5" width="17" height="14"/>
<circle class="t" cx="666" cy="657.8" r="3.4"/>
<circle class="t" cx="666" cy="657.8" r="1.6"/>
<path class="t" d="M657 651.5 L666 648 L673.5 650 L673.5 665.5 L666 668 L657 665.5"/>
<path d="M674 657.8 H683" stroke="#333" stroke-width="3" stroke-dasharray="1 1" fill="none"/>
<path class="t" d="M683.5 654 L683.5 662"/>
<path class="t" d="M652 657.8 H660 M653.5 655 V660.5"/>
<path class="t" d="M474.4 701.5 H497 Q505 701.5 509 706 L515.3 709.5 V713.5 L509 717 Q505 722 497 722 H474.4"/>
<path class="c" d="M471 711.5 L519 711.5"/>
<path class="t" d="M703.7 560 V547 Q703.7 542.3 709 542 L725 540.5 H770 L786 542 Q791.5 542.3 791.5 547 V560"/>
<path class="t" d="M705 549.5 L791 549.5"/>
<path class="t" d="M703.7 561.5 L793 561.5"/>
<path class="t" d="M709.5 549 L709.5 561.5"/>
<path class="t" d="M719.5 549 L719.5 561.5"/>
<path class="t" d="M728.5 549 L728.5 561.5"/>
<path class="t" d="M738.5 549 L738.5 561.5"/>
<path class="t" d="M748.5 549 L748.5 561.5"/>
<path class="t" d="M757.5 549 L757.5 561.5"/>
<path class="t" d="M767.5 549 L767.5 561.5"/>
<path class="t" d="M777.5 549 L777.5 561.5"/>
<path class="t" d="M787.5 549 L787.5 561.5"/>
<path class="t" d="M703.5 560 L703.5 675"/>
<path class="t" d="M748.5 536 L748.5 630"/>
<path class="t" d="M793.5 560 L793.5 575"/>
<path class="t" d="M688 548 L690 544 L700 541.5 L790 541.5"/>
<path class="t" d="M700 537.5 L876 537.5"/>
<path class="t" d="M800.1 583.2 L795.1 587.4 L789 585.2 L787.9 578.8 L792.9 574.6 L799 576.8 Z"/>
<path class="t" d="M789.5 576.5 L798.5 585.5"/>
<path class="t" d="M789.5 585.5 L798.5 576.5"/>
<rect class="t" x="807.5" y="577.5" width="19" height="23"/>
<path class="t" d="M929.5 482.7 C924.6 485.1 911.6 491.6 900 497 C888.4 502.4 870.8 510 860 515 C849.2 520 840.7 524 835 527 C829.3 530 828.4 530.5 826 533 C823.6 535.5 821.7 538.3 820.5 542 C819.3 545.7 819.3 550 819 555 C818.7 560 818.6 569.2 818.5 572"/>
<path class="t" d="M925 487 C920.8 489.2 910.5 494.8 900 500 C889.5 505.2 872.3 513 862 518 C851.7 523 843.3 527 838 530 C832.7 533 832.2 533.7 830 536 C827.8 538.3 826.1 540.7 825 544 C823.9 547.3 823.8 551.7 823.5 556 C823.2 560.3 823.1 567.7 823 570"/>
<path class="t" d="M922 492 C918.3 493.9 909.7 498.6 900 503.5 C890.3 508.4 873.8 516.6 864 521.5 C854.2 526.4 846 530.1 841 533 C836 535.9 836 536.8 834 539 C832 541.2 830.1 543 829 546 C827.9 549 827.8 553.5 827.5 557 C827.2 560.5 827.1 565.3 827 567"/>
<path class="t" d="M885.5 520.5 L882.5 525.5 L876.5 525.5 L873.5 520.5 L876.5 515.5 L882.5 515.5 Z"/>
<path class="t" d="M875 516 L884 525"/>
<path class="t" d="M875 525 L884 516"/>
<path class="t" d="M869.5 507 V520 Q869.5 530.5 879.5 530.5 Q889.5 530.5 889.5 520 V512"/>
<path class="t" d="M928.5 452.5 L925.5 457.5 L919.5 457.5 L916.5 452.5 L919.5 447.5 L925.5 447.5 Z"/>
<path class="t" d="M917.7 452.5 L927.3 452.5"/>
<path class="t" d="M922.5 447.7 L922.5 457.3"/>
<path class="t" d="M916.6 443.5 H924 Q932 444 932.5 452 V480"/>
<path class="t" d="M917 461 L931.5 470"/>
<path class="t" d="M917 470 C917.5 471.3 919.4 475 920 478 C920.6 481 920.4 486.3 920.5 488"/>
<path class="t" d="M741 507 Q743 527.6 753 529.3 Q763 527.6 763.5 507"/>
<path class="t" d="M710 507 L746 527.6"/>
<path class="t" d="M857.5 470 V485 Q857.5 500 870 506"/>
<path class="t" d="M857.5 443 Q857 456 848 458"/>
<path class="t" d="M752.5 478 L748.5 482 M760 478 L764 482"/>
<path class="t" d="M626.6 749.5 L667.7 749.5"/>
<path class="t" d="M626.6 776.5 L662 776.5"/>
<path class="t" d="M626.6 778.5 L661.5 778.5"/>
<path class="t" d="M626.6 792.5 L658 792.5"/>
<path class="t" d="M626.6 794.5 L657.5 794.5"/>
<path class="t" d="M626.6 813.5 L651.5 813.5"/>
<path class="t" d="M627 762.5 L633 762.5"/>
<path class="t" d="M630.5 759.8 L630.5 765.8"/>
<path class="t" d="M627 785.5 L633 785.5"/>
<path class="t" d="M630.5 782 L630.5 788"/>
<path class="t" d="M627 803.5 L633 803.5"/>
<path class="t" d="M630.5 800.6 L630.5 806.6"/>
<path class="t" d="M614.7 819 Q614.7 816.7 618 816.7 H630 Q633.5 816.7 633.5 819 V821.5 Q633.5 824.5 630 824.5 H618 Q614.7 824.5 614.7 821.5 Z"/>
<path class="t" d="M615 820.5 L633 820.5"/>
<rect class="t" x="619.5" y="824.5" width="10" height="9" rx="2"/>
<path class="t" d="M624.5 824.5 L624.5 834"/>
<path class="t" d="M619 829.5 L629.2 829.5"/>
<path class="t" d="M474 840.5 L646.3 840.5"/>
<path class="c" d="M440 845.5 L500 845.5"/>
<path class="t" d="M474 847.5 L643 847.5"/>
<path class="t" d="M474 852.5 L639.5 852.5"/>
<path class="t" d="M547.5 821 L547.5 840.4"/>
<path class="t" d="M551.5 821 L551.5 840.4"/>
<path class="t" d="M570.5 821 L570.5 840.4"/>
<path class="t" d="M572.5 821 L572.5 840.4"/>
<path class="t" d="M608.5 821 L608.5 840.4"/>
<path class="t" d="M610.5 821 L610.5 840.4"/>
<path class="t" d="M635.5 821 L635.5 840.4"/>
<path class="t" d="M637.5 821 L637.5 840.4"/>
<path class="t" d="M551.3 823.5 L568 823.5"/>
<path class="t" d="M478 824.5 C479.1 824.5 483 824.1 484.5 824.5 C486 824.9 487.1 825.8 487 827 C486.9 828.2 484.4 830.3 484 832 C483.6 833.7 483.5 835.8 484.5 837 C485.5 838.2 487.9 838.4 490 839 C492.1 839.6 495.8 840.2 497 840.4"/>
<rect class="t" x="482.5" y="852.5" width="12" height="7"/>
<path class="t" d="M486.5 852.2 L486.5 859.6"/>
<path class="t" d="M490.5 852.2 L490.5 859.6"/>
<rect class="t" x="520.5" y="852.5" width="12" height="7"/>
<path class="t" d="M524.5 852.2 L524.5 859.6"/>
<path class="t" d="M528.5 852.2 L528.5 859.6"/>
<rect class="t" x="567.5" y="852.5" width="12" height="7"/>
<path class="t" d="M571.5 852.2 L571.5 859.6"/>
<path class="t" d="M575.5 852.2 L575.5 859.6"/>
<path class="t" d="M488.5 859.6 L488.5 948"/>
<path class="t" d="M526.5 859.6 V884.2 A23.35 23.35 0 0 0 573.2 884.2 V859.6"/>
<path class="c" d="M549.5 850 L549.5 914.3"/>
<path class="t" d="M475.5 852 L475.5 948"/>
<path class="t" d="M478.5 852 L478.5 948"/>
<path class="t" d="M639.5 852.2 L636 862"/>
<rect class="t" x="474.5" y="756.5" width="8" height="17"/>
<path class="t" d="M474 762.5 L482 762.5"/>
<path class="t" d="M474 768.5 L482 768.5"/>
<path class="t" d="M482 761.1 H518 L520.5 764.9 L518 768.8 H482 M482 762.6 H518 M482 767.3 H518"/>
<path class="t" d="M470 764.5 L486 764.5"/>
<path class="t" d="M476 754 C477 753.8 480.3 753.6 482 753 C483.7 752.4 485.3 750.9 486 750.5"/>
<path class="t" d="M476 776 C477 776.2 480.3 776.4 482 777 C483.7 777.6 485.3 779.1 486 779.5"/>
<path class="t" d="M550.8 777.4 L548 782.5 L542.5 782.5 L539.8 777.4 L542.5 772.5 L548 772.5 Z"/>
<path class="t" d="M540.9 777.5 L549.7 777.5"/>
<path class="t" d="M545.5 773 L545.5 781.8"/>
<path class="t" d="M615.9 777.4 L613.1 782.5 L607.6 782.5 L604.9 777.4 L607.6 772.5 L613.1 772.5 Z"/>
<path class="t" d="M606 777.5 L614.8 777.5"/>
<path class="t" d="M610.5 773 L610.5 781.8"/>
<circle class="t" cx="545.3" cy="777.4" r="6.8"/>
<circle class="t" cx="610.4" cy="777.4" r="6.8"/>
<path class="t" d="M553 762.8 C551.7 763.4 547.2 765 545 766.5 C542.8 768 540.6 770.2 539.5 772 C538.4 773.8 538.4 775.6 538.5 777.4 C538.6 779.2 538.4 781 540 783 C541.6 785 544.7 787.1 548 789.5 C551.3 791.9 556.3 795.3 560 797.5 C563.7 799.7 567 801.4 570 802.5 C573 803.6 575.1 803.9 577.8 803.9 C580.5 803.9 583 803.6 586 802.5 C589 801.4 592.3 799.7 596 797.5 C599.7 795.3 604.7 791.9 608 789.5 C611.3 787.1 614.3 785 616 783 C617.7 781 617.9 779.2 618 777.4 C618.1 775.6 617.6 773.6 616.5 772 C615.4 770.4 612.1 768.7 611.2 768"/>
<path class="t" d="M585.5 751.7 C587.2 752.4 592.8 754.2 596 756 C599.2 757.8 602.5 760.5 605 762.5 C607.5 764.5 610.2 767.1 611.2 768"/>
<path class="t" d="M563.3 779 C563.9 780.5 565.2 785.6 567 788 C568.8 790.4 571.8 793 574 793.5 C576.2 794 578.1 792.2 580.4 791 C582.7 789.8 586 788 588 786 C590 784 591.9 781.7 592.4 779 C592.9 776.3 591 771.2 590.7 769.7"/>
<path class="t" d="M553 762.8 C553.7 762.2 555.7 760 557 759 C558.3 758 560.3 756.9 561 756.5"/>
<path class="t" d="M574 794 V803 M581 792 V803"/>
<path class="t" d="M577.5 749.1 L577.5 808.2"/>
<path class="t" d="M536 777.5 L621 777.5"/>
<path class="t" d="M556 769 Q551 769 548 771.5 M556 786 Q551 786 548 783.5 M599 769 Q604 769 607 771.5 M599 786 Q604 786 607 783.5"/>
<path class="t" d="M618 777.5 L621.5 777.5"/>
<path class="m" d="M263.5 592.9 L321.8 617 Q328.5 620 328.5 627.2 V646.3 H425.8 V625.6 Q425.8 620 420.7 617 L354.5 576.6 Q352.5 575.2 350.3 575"/>
<path class="cs" d="M328.5 640.5 L425.8 640.5"/>
<rect class="t" x="341.5" y="631.5" width="14" height="7"/>
<path class="t" d="M346.5 631.8 L346.5 638"/>
<path class="t" d="M350.5 631.8 L350.5 638"/>
<rect class="t" x="339.5" y="638.5" width="18" height="2"/>
<path class="t" d="M348.5 628.7 L348.5 653.6"/>
<rect class="t" x="406.5" y="631.5" width="14" height="7"/>
<path class="t" d="M410.5 631.8 L410.5 638"/>
<path class="t" d="M415.5 631.8 L415.5 638"/>
<rect class="t" x="404.5" y="638.5" width="18" height="2"/>
<path class="t" d="M413.5 628.7 L413.5 653.6"/>
<rect class="t" x="425.5" y="636.5" width="22" height="10"/>
<path class="t" d="M430.5 637 L430.5 646.3"/>
<path class="t" d="M433.5 637 L433.5 646.3"/>
<path class="t" d="M441.5 637 L441.5 646.3"/>
<path class="t" d="M444.5 637 L444.5 646.3"/>
<path class="t" d="M437.5 632.6 L437.5 659.8"/>
<path class="t" d="M448.5 1053 L448.5 624.5 L474.5 624.5 L474.5 1053"/>
<path d="M467.4 624.8 V1053" stroke="#111" stroke-width="1.6" fill="none"/>
<path class="t" d="M473.5 624.8 L473.5 1053"/>
<path class="t" d="M448.4 1053.5 L474.4 1053.5"/>
<path class="t" d="M460.5 824.5 L460.5 1042"/>
<path class="t" d="M448.4 824.5 L460.5 824.5"/>
<path class="t" d="M331.5 646.3 L331.5 1039.5 L430.8 1039.5 L440.9 1042.5 L448.4 1042.5"/>
<path class="t" d="M318.5 654.4 L318.5 1035.8"/>
<rect class="t" x="307.5" y="656.5" width="11" height="14" rx="1.5"/>
<path class="t" d="M307.8 670 V676"/>
<path class="t" d="M303.5 694 L303.5 1010"/>
<path class="t" d="M307.5 692 L307.5 1017.6"/>
<rect class="t" x="300.5" y="676.5" width="7" height="15" rx="1.5"/>
<path class="t" d="M300 681.5 L307.8 681.5"/>
<path class="t" d="M300 686.5 L307.8 686.5"/>
<path class="t" d="M296 683.5 L314 683.5"/>
<rect class="t" x="300.5" y="723.5" width="7" height="15" rx="1.5"/>
<path class="t" d="M300 728.5 L307.8 728.5"/>
<path class="t" d="M300 733.5 L307.8 733.5"/>
<path class="t" d="M296 730.5 L314 730.5"/>
<rect class="t" x="300.5" y="796.5" width="7" height="15" rx="1.5"/>
<path class="t" d="M300 801.5 L307.8 801.5"/>
<path class="t" d="M300 806.5 L307.8 806.5"/>
<path class="t" d="M296 803.5 L314 803.5"/>
<rect class="t" x="300.5" y="879.5" width="7" height="15" rx="1.5"/>
<path class="t" d="M300 884.5 L307.8 884.5"/>
<path class="t" d="M300 889.5 L307.8 889.5"/>
<path class="t" d="M296 887.5 L314 887.5"/>
<rect class="t" x="300.5" y="952.5" width="7" height="15" rx="1.5"/>
<path class="t" d="M300 957.5 L307.8 957.5"/>
<path class="t" d="M300 962.5 L307.8 962.5"/>
<path class="t" d="M296 959.5 L314 959.5"/>
<rect class="t" x="300.5" y="993.5" width="7" height="15" rx="1.5"/>
<path class="t" d="M300 998.5 L307.8 998.5"/>
<path class="t" d="M300 1003.5 L307.8 1003.5"/>
<path class="t" d="M296 1001.5 L314 1001.5"/>
<rect class="t" x="307.5" y="1017.5" width="11" height="10" rx="1.5"/>
<path class="t" d="M254.9 701.5 L303.2 701.5"/>
<path class="t" d="M356.5 947.7 L356.5 824.5 L466.2 824.5"/>
<path class="t" d="M363.5 824.7 L363.5 939.6"/>
<path class="t" d="M460.5 824.7 L460.5 939.6"/>
<rect class="t" x="356.5" y="939.5" width="111" height="8"/>
<circle class="t" cx="386.7" cy="837.4" r="3.4"/>
<circle class="t" cx="386.7" cy="837.4" r="2"/>
<path class="t" d="M379.7 837.5 L393.7 837.5"/>
<path class="t" d="M386.5 830.4 L386.5 844.4"/>
<circle class="t" cx="437.5" cy="837.4" r="3.4"/>
<circle class="t" cx="437.5" cy="837.4" r="2"/>
<path class="t" d="M430.5 837.5 L444.5 837.5"/>
<path class="t" d="M437.5 830.4 L437.5 844.4"/>
<circle class="t" cx="386.7" cy="908.7" r="3.4"/>
<circle class="t" cx="386.7" cy="908.7" r="2"/>
<path class="t" d="M379.7 908.5 L393.7 908.5"/>
<path class="t" d="M386.5 901.7 L386.5 915.7"/>
<circle class="t" cx="437.5" cy="908.7" r="3.4"/>
<circle class="t" cx="437.5" cy="908.7" r="2"/>
<path class="t" d="M430.5 908.5 L444.5 908.5"/>
<path class="t" d="M437.5 901.7 L437.5 915.7"/>
<path class="c" d="M394 837.5 L430 837.5"/>
<path class="c" d="M386.5 845 L386.5 902"/>
<path class="c" d="M437.5 845 L437.5 902"/>
<path class="c" d="M221.8 844.5 L476 844.5"/>
<path class="t" d="M398.4 901.2 V894 Q398.4 892 401 892 H423 Q425.7 892 425.7 894 V901.2"/>
<path class="t" d="M407.5 892 L407.5 901.2"/>
<path class="t" d="M417.5 892 L417.5 901.2"/>
<path class="t" d="M385.2 908.3 L393.3 901.5 L430.8 901.5 L439.9 908.3"/>
<path d="M386.7 908.9 H437.5" stroke="#111" stroke-width="1.5" fill="none"/>
<path class="t" d="M388.3 910.3 L385.2 923.9"/>
<path class="t" d="M436.9 910.3 L439.9 923.9"/>
<path class="t" d="M368.4 923.9 H456.7 V934 Q456.7 939.2 451 939.2 H374 Q368.4 939.2 368.4 934 Z"/>
<path class="t" d="M368.4 962.9 V953 Q368.4 948.4 374 948.4 H451 Q456.7 948.4 456.7 953 V962.9 Z"/>
<path class="t" d="M375.1 962.9 L386.3 981.5"/>
<path class="t" d="M448 962.9 L438.9 981.5"/>
<path class="t" d="M384.5 981.5 H440.5 Q438 988 431.8 990.2 H393.3 Q387 988 384.5 981.5"/>
<rect class="t" x="405.5" y="990.5" width="14" height="6"/>
<path class="t" d="M410.5 990.2 L410.5 996.3"/>
<path class="t" d="M415.5 990.2 L415.5 996.3"/>
<rect class="t" x="398.5" y="996.5" width="28" height="3"/>
<path class="t" d="M401 1002.5 L423 1002.5 L424.5 1005 L424.5 1011 L423 1013.5 L401 1013.5 L399.5 1011 L399.5 1005 Z"/>
<path class="t" d="M406.5 1002.4 L406.5 1013.5"/>
<path class="t" d="M418.5 1002.4 L418.5 1013.5"/>
<rect class="t" x="405.5" y="1013.5" width="14" height="7"/>
<path class="t" d="M410.5 1013.5 L410.5 1020.6"/>
<path class="t" d="M415.5 1013.5 L415.5 1020.6"/>
<path class="t" d="M405.5 1017.5 L419.7 1017.5"/>
<path class="t" d="M412.5 887 L412.5 1022.6"/>
<path class="t" d="M436 837.5 L446 837.5"/>
<path class="t" d="M436 908.5 L446 908.5"/>
<path class="t" d="M231.2 664.5 L250.9 664.5 L252.5 666 L252.5 697 L255.1 701.5 L303.1 701.5"/>
<path class="t" d="M214.9 669.5 L201.2 669.5 L198.5 671.5 L198.5 697.5 L187.5 697.5 L187.5 706.5 L181.5 706.5 L181.5 811.6"/>
<path class="t" d="M202.5 669 L202.5 697.8"/>
<path class="t" d="M198.6 697.5 L252 697.5"/>
<path class="t" d="M252.5 697 L252.5 705"/>
<path class="t" d="M172.5 706.4 L172.5 814"/>
<rect class="t" x="161.5" y="706.5" width="11" height="17"/>
<path class="t" d="M154 715.5 L178 715.5"/>
<path class="t" d="M167.5 708 L167.5 723"/>
<path class="t" d="M220.5 600 L220.5 633.6"/>
<path class="t" d="M233.5 600 L233.5 633.6"/>
<path class="t" d="M222.5 603 L222.5 657"/>
<path class="t" d="M231.5 603 L231.5 657"/>
<path class="c" d="M226.5 580 L226.5 700"/>
<rect class="t" x="213.5" y="633.5" width="27" height="19"/>
<rect class="t" x="217.5" y="652.5" width="19" height="5"/>
<path class="t" d="M217.1 655.5 L236.6 655.5"/>
<rect class="t" x="213.5" y="657.5" width="27" height="8"/>
<path class="t" d="M222.5 657.6 L222.5 665.3"/>
<path class="t" d="M231.5 657.6 L231.5 665.3"/>
<path d="M216 666 H237" stroke="#222" stroke-width="1.6" fill="none"/>
<path class="t" d="M215 665.3 L217 668.5 L231 668.5 L233 665.3"/>
<path class="t" d="M227 586.2 H140.4 Q141.5 596 140.4 605.9 H227"/>
<path class="c" d="M145 596.5 L243 596.5"/>
<path class="t" d="M169.1 588.7 L175.1 593.9"/>
<path class="t" d="M169.1 593.9 L175.1 588.7"/>
<path class="t" d="M203.3 588.7 L209.3 593.9"/>
<path class="t" d="M203.3 593.9 L209.3 588.7"/>
<path class="t" d="M150.3 598.2 L156.3 603.4"/>
<path class="t" d="M150.3 603.4 L156.3 598.2"/>
<path class="t" d="M187.9 598.2 L193.9 603.4"/>
<path class="t" d="M187.9 603.4 L193.9 598.2"/>
<path class="t" d="M227 586.2 A9.9 9.9 0 0 1 227 605.9"/>
<path class="t" d="M221.3 596 A5.6 5.6 0 0 1 232.5 596"/>
<path d="M216 597.5 H232" stroke="#222" stroke-width="1.6" fill="none"/>
<rect class="t" x="308.5" y="656.5" width="9" height="14" rx="1.5"/>
<path class="t" d="M206.2 913.3 L300.6 991.5"/>
<g transform="translate(49.7 580.5) rotate(-12.55)">
<path class="t" d="M-7.5 32 L-7.5 0.5 L7.5 0.5 L7.5 32"/>
<path class="t" d="M-15.5 49.5 L-15.5 32.5 L15.5 32.5 L15.5 49.5"/>
<path class="t" d="M-7.5 32 L-7.5 49.5"/>
<path class="t" d="M7.5 32 L7.5 49.5"/>
<path class="t" d="M-27.5 112.5 L-27.5 50.5 L27.5 50.5 L27.5 112.5"/>
<path class="t" d="M-37.5 388 L-37.5 153 L-42.5 150.3 L-42.5 112.5 L48.5 112.5 L48.5 359"/>
<path class="t" d="M-48 128.5 L-25.5 128.5"/>
<path class="t" d="M48.9 211.5 L78.5 211.5 L78.5 358.8"/>
<path class="t" d="M48.9 359.5 L80.5 359.5 L86.6 367.5 L32.5 367.5 L32.5 398.5 L-43.5 398.5 L-43.5 388.5 L-37.4 388.5"/>
<path class="t" d="M49.5 359.2 L49.5 367"/>
<path class="t" d="M-8.5 398.3 L-8.5 429.5 L7.5 429.5 L7.5 398.3"/>
<path class="c" d="M0.5 -3 L0.5 436"/>
<path class="t" d="M-23 271 Q-23 258.5 -12 258.5 H12 Q23 258.5 23 271 V320 Q23 332.5 12 332.5 H-12 Q-23 332.5 -23 320 Z"/>
<circle class="m" cx="-10.4" cy="274.2" r="3.8"/>
<path class="t" d="M-19.4 274.5 L-1.4 274.5"/>
<path class="t" d="M-10.5 265.2 L-10.5 283.2"/>
<circle class="m" cx="9.7" cy="274.2" r="3.8"/>
<path class="t" d="M0.7 274.5 L18.7 274.5"/>
<path class="t" d="M9.5 265.2 L9.5 283.2"/>
<circle class="m" cx="-10.4" cy="317.5" r="3.8"/>
<path class="t" d="M-19.4 317.5 L-1.4 317.5"/>
<path class="t" d="M-10.5 308.5 L-10.5 326.5"/>
<circle class="m" cx="9.7" cy="317.5" r="3.8"/>
<path class="t" d="M0.7 317.5 L18.7 317.5"/>
<path class="t" d="M9.5 308.5 L9.5 326.5"/>
<circle class="t" cx="-0.3" cy="295.3" r="7.6"/>
<path class="t" d="M-4.5 295.5 L4 295.5"/>
<path class="cs" d="M-10.5 258 L-10.5 336"/>
<path class="cs" d="M9.5 258 L9.5 336"/>
<path class="c" d="M-45 295.5 L110.5 295.5"/>
</g>
<path class="m" d="M1154.5 547.1 L1154.5 318.8 L1215.1 183.6 L1368.5 105.3 L1329.7 225.2 L1282.7 248.7 L1243.5 338.4 L1243.5 547.1"/>
<path class="m" d="M1215.1 183.6 L1282.7 248.7"/>
<path class="m" d="M1154.8 318.8 L1243.3 338.4"/>
<path class="c" d="M1368.9 155.2 L1249 215.8 L1198.5 328.6 L1198.5 575"/>
<path class="t" d="M1198.5 328.6 L1198.5 345"/>
<path class="t" d="M1154.8 414.9 C1157.3 413.2 1162.7 407 1170 404.5 C1177.3 402 1189.2 399.8 1198.9 399.8 C1208.6 399.8 1220.6 402 1228 404.5 C1235.4 407 1240.8 413.2 1243.3 414.9"/>
<path class="t" d="M1154.8 501.9 C1157.3 500.3 1162.7 494.7 1170 492.5 C1177.3 490.3 1189.2 488.5 1198.9 488.5 C1208.6 488.5 1220.6 490.3 1228 492.5 C1235.4 494.7 1240.8 500.3 1243.3 501.9"/>
<path class="t" d="M1154.8 547.1 C1157.3 547.8 1164.9 550.3 1170 551.5 C1175.1 552.7 1178.1 554 1185.4 554.5 C1192.7 555 1206.5 555 1213.8 554.5 C1221.1 554 1224.1 552.7 1229 551.5 C1233.9 550.3 1240.9 547.8 1243.3 547.1"/>
<rect class="m" x="1140.5" y="547.5" width="117" height="17"/>
<path class="t" d="M1140.2 563.5 L1257.3 563.5"/>
<path class="m" d="M1140.2 551.5 L1046.5 551.5 L1046.5 810.5 L1237.5 810.5"/>
<path class="m" d="M1285 810.5 L1545.7 810.5"/>
<path class="m" d="M1592.6 810.5 L1605.9 810.5"/>
<path class="m" d="M1257.3 551.5 L1526.6 551.5"/>
<path class="t" d="M1526.6 551.1 C1526.9 553.2 1527.6 557.3 1528.3 563.8 C1529 570.3 1529.9 580 1531 590 C1532.1 600 1532.9 612.8 1535 624 C1537.1 635.2 1540.6 648.7 1543.4 657.5 C1546.2 666.3 1548.9 670.9 1552 677 C1555.1 683.1 1557.1 687 1561.8 694.3 C1566.5 701.6 1574.3 712.9 1580.2 721 C1586.1 729.1 1593.3 736.4 1596.9 742.8 C1600.5 749.2 1600.8 750.9 1601.9 759.5 C1603 768.1 1602.9 786.2 1603.6 794.7 C1604.3 803.2 1605.5 808 1605.9 810.7"/>
<path class="m" d="M1038.2 679.5 L1561.8 679.5"/>
<path class="t" d="M1046.5 682.5 L1556 682.5"/>
<rect class="m" x="1237.5" y="775.5" width="48" height="41"/>
<path class="t" d="M1237.5 777.5 L1285 777.5"/>
<rect class="m" x="1545.5" y="775.5" width="47" height="41"/>
<path class="t" d="M1545.7 777.5 L1592.6 777.5"/>
<path class="m" d="M1258.5 861.9 V795.5 H1264.2 V861.9 Q1264.2 872.5 1254.3 872.5 H1226.5 V868.5 H1252 Q1258.5 868.5 1258.5 861.9"/>
<path class="m" d="M1566.8 862 V795.5 H1571.8 V860 Q1571.8 868.5 1578 868.5 H1604.6 V872.4 H1576 Q1566.8 872.4 1566.8 862"/>
<rect class="m" x="1224.5" y="872.5" width="408" height="7"/>
<path class="m" d="M1232.4 865.2 V859.5 Q1232.4 857.3 1235 857.3 H1250.5 Q1252.9 857.3 1252.9 859.5 V865.2 Z"/>
<path d="M1230 866.8 H1254.6" stroke="#111" stroke-width="2.4" fill="none"/>
<path d="M1230 881 H1254.6" stroke="#111" stroke-width="2" fill="none"/>
<rect class="m" x="1233.5" y="883.5" width="19" height="12"/>
<path class="m" d="M1238.5 883.7 L1238.5 895.7"/>
<path class="m" d="M1248.5 883.7 L1248.5 895.7"/>
<rect class="m" x="1236.5" y="895.5" width="12" height="5"/>
<path class="t" d="M1242.5 855 L1242.5 903.6"/>
<path class="t" d="M1226 880 L1227 890 L1233.7 897"/>
<path class="m" d="M1578.5 866.7 V860 Q1578.5 857.7 1581 857.7 H1596 Q1598.6 857.7 1598.6 860 V866.7 Z"/>
<path d="M1576 868 H1604.6" stroke="#111" stroke-width="2" fill="none"/>
<path d="M1577 881.4 H1600" stroke="#111" stroke-width="2" fill="none"/>
<rect class="m" x="1578.5" y="885.5" width="19" height="10"/>
<path class="m" d="M1583.5 885 L1583.5 895"/>
<path class="m" d="M1593.5 885 L1593.5 895"/>
<rect class="m" x="1582.5" y="895.5" width="12" height="4"/>
<path class="t" d="M1588.5 853 L1588.5 903.5"/>
<path class="t" d="M1243.7 901 L1342.6 955.4 L1356.6 957"/>
<path class="m" d="M1356.6 872.5 V957 Q1356.6 972.1 1369.4 972.1 H1618.7 Q1632 972.1 1632 958.7 V872.5"/>
<path class="t" d="M1363.5 879.8 V955.4 Q1363.5 964.4 1371 964.4 H1618.7 Q1626 964.4 1626 957 V879.8"/>
<path class="t" d="M1344.3 879.8 L1356.6 891.7"/>
<path class="t" d="M1363.5 942.7 H1609 Q1613.6 942.7 1613.6 947 V964.4"/>
<path class="m" d="M1386.2 960.4 V954 Q1386.2 952 1388.2 952 H1406.2 Q1408.2 952 1408.2 954 V960.4 Z"/>
<path class="t" d="M1392.5 952 L1392.5 960.4"/>
<path class="t" d="M1402.5 952 L1402.5 960.4"/>
<path d="M1384.7 962.4 H1409.7" stroke="#111" stroke-width="2.2" fill="none"/>
<path class="t" d="M1397.5 944.7 L1397.5 987"/>
<path class="m" d="M1580.2 960.4 V954 Q1580.2 952 1582.2 952 H1600.2 Q1602.2 952 1602.2 954 V960.4 Z"/>
<path class="t" d="M1586.5 952 L1586.5 960.4"/>
<path class="t" d="M1596.5 952 L1596.5 960.4"/>
<path d="M1578.7 962.4 H1603.7" stroke="#111" stroke-width="2.2" fill="none"/>
<path class="t" d="M1591.5 944.7 L1591.5 987"/>
<circle cx="1595" cy="955.5" r="1.8" fill="#333"/>
<rect class="t" x="1477.5" y="887.5" width="59" height="29"/>
<path class="t" d="M1536 888.5 L1561.1 888.5"/>
<path class="t" d="M1536 915.5 L1561.1 915.5"/>
<path class="t" d="M1561.1 888.5 C1561.3 889.6 1562.6 892.2 1562.5 895 C1562.4 897.8 1560.7 901.5 1560.5 905 C1560.3 908.5 1561 914.1 1561.1 915.9"/>
<path class="t" d="M1538.5 904.5 L1546.5 912.5"/>
<path class="t" d="M1538.5 912.5 L1546.5 904.5"/>
<path class="c" d="M1481.5 901.5 L1565.1 901.5"/>
<path class="t" d="M1477.1 893.5 C1473 894.5 1463.6 894.2 1456.4 898.5 C1449.2 902.8 1445.5 907.8 1441.3 915.2 C1437.1 922.6 1436.7 927.6 1435.6 935.3 C1434.5 943 1435.6 950 1435.6 953.7"/>
<path class="t" d="M1477.1 910.2 C1474.5 911 1465.4 912.4 1461.4 915.2 C1457.4 918 1454.5 920.5 1453 926.9 C1451.5 933.3 1452.5 949.2 1452.4 953.7"/>
<path class="t" d="M1477.1 901.8 C1474.2 902.4 1464.5 902.4 1459.7 905.2 C1454.9 908 1450.6 913.9 1448 918.6 C1445.4 923.3 1444.7 931.1 1444 933.6"/>
<rect class="t" x="1425.5" y="953.5" width="37" height="26"/>
<path class="t" d="M1452.5 953.7 L1452.5 979.5"/>
<path class="t" d="M1435.5 953.7 L1435.5 979.5"/>
<path d="M1441.3 971.8 H1488.2" stroke="#111" stroke-width="1.6" fill="none"/>
<path class="t" d="M1431.3 979.5 L1432 981.5 L1457 981.5 L1457.5 979.5"/>
<path class="t" d="M1597 956.5 L1860.5 956.5"/>
<path class="t" d="M1811.5 956.4 L1811.5 1021.3"/>
<path class="t" d="M1811.4 988.5 L1860.5 988.5"/>
<path class="t" d="M1811.4 1021.5 L1860.5 1021.5"/>
<path class="t" d="M1351.5 956.7 L1351.5 981.6 L1342.4 997.2 L1314.4 1012.8 L1306.6 1015.3 L1154.7 1018.4 L1143.8 1022.4 L1137 1032.4 L1127.6 1066.6 L1123.9 1099.3 L1135.4 1141.3"/>
<path class="t" d="M1135.4 1141.3 L1157.2 1129.5 L1199.2 1111.1 L1236.6 1106.5 L1270.8 1108 L1339.3 1111.7 L1373.5 1108.6 L1476.5 1082.5 L1513.3 1076.5 L1550 1076.5 L1600.3 1084.2 L1620.3 1083.5 L1635.4 1078.5 L1657.1 1060.8 L1673.2 1041.4"/>
<path class="t" d="M1673.2 1041.4 L1622 1000.5 L1613.5 985.5 L1613.5 972"/>
<path class="t" d="M1157.2 1129.5 L1156.6 1107.1 L1163.4 1083.7 L1176.8 1065.1 L1195.5 1051.7 L1215.7 1044.5 L1277 1042.6 L1312.2 1027.7 L1347.1 1005.9 L1393.8 988.8 L1433 981.5 L1486.5 979.5 L1533.3 987.2 L1571.8 999.5 L1613.6 1022.3 L1657.1 1060.8"/>
<path class="t" d="M1270.8 1108 L1301 1072.8 L1337.7 1043.9 L1379.8 1022.1 L1422.9 1010.6 L1466.4 1007.2 L1516.6 1013.2 L1560.1 1027.3 L1600.3 1050.7 L1635.4 1078.5"/>
<path class="t" d="M1236.6 1106.5 L1267.7 1068.1 L1312.2 1027.7"/>
<circle class="t" cx="1142.5" cy="1103.2" r="6.6"/>
<path class="t" d="M1382.8 972.1 V990 Q1381 994 1378 995.5 M1396.8 972.1 V986 M1411.2 972.1 V984 Q1412 986.5 1416 987"/>
<path class="t" d="M1577.8 972.1 V995 Q1576 1000 1570 1001 M1591.2 972.1 V990 M1605.3 972.1 V1002.2 L1608.6 1021.3"/>
<path class="c" d="M1464.5 997.2 L1464.5 1260.5"/>
<path class="c" d="M1440.7 1249.5 L1492.2 1249.5"/>
<circle class="m" cx="1660.4" cy="492.6" r="45.4"/>
<circle class="t" cx="1660.4" cy="492.6" r="44.2"/>
<circle class="m" cx="1660.4" cy="492.6" r="42"/>
<circle cx="1660.4" cy="492.6" r="43.3" fill="none" stroke="#555" stroke-width="2.2" stroke-dasharray="1.2 2.2"/>
<path class="t" d="M1601.9 504.4 V492.6 A58.5 58.5 0 0 1 1718.9 492.6 V504.4"/>
<path class="t" d="M1608.4 572 V492.6 A52 52 0 0 1 1712.4 492.6 V572"/>
<path class="t" d="M1592.1 549.3 V519.1 Q1593 509 1598.6 506.8 Q1603 504.4 1609.2 504.4 H1616.7"/>
<path class="t" d="M1704.2 504.4 H1715 Q1722 505.5 1724.4 510.9 Q1727.7 515 1727.7 519.1 V549.3"/>
<path class="t" d="M1592.1 549.5 L1727.7 549.5"/>
<path class="t" d="M1592.1 545.5 L1727.7 545.5"/>
<path class="t" d="M1598.5 545.3 L1598.5 519.5 L1624 519.5"/>
<path class="t" d="M1696.5 519.5 L1722.5 519.5 L1722.5 545.3"/>
<rect class="t" x="1596.5" y="549.5" width="24" height="3"/>
<rect class="t" x="1597.5" y="555.5" width="22" height="9"/>
<path class="t" d="M1603.5 555.9 L1603.5 564"/>
<path class="t" d="M1613.5 555.9 L1613.5 564"/>
<rect class="t" x="1603.5" y="564.5" width="11" height="5"/>
<path class="t" d="M1606.5 564 L1606.5 569"/>
<path class="t" d="M1609.5 564 L1609.5 569"/>
<rect class="t" x="1699.5" y="549.5" width="24" height="3"/>
<rect class="t" x="1701.5" y="555.5" width="20" height="9"/>
<path class="t" d="M1706.5 555.9 L1706.5 564"/>
<path class="t" d="M1716.5 555.9 L1716.5 564"/>
<rect class="t" x="1706.5" y="564.5" width="10" height="5"/>
<path class="t" d="M1710.5 564 L1710.5 569"/>
<path class="t" d="M1713.5 564 L1713.5 569"/>
<path class="c" d="M1660.5 430.9 L1660.5 557.5"/>
<path class="c" d="M1612.5 492.5 L1769.4 492.5"/>
<path class="c" d="M1703.5 392.5 L1703.5 512.6"/>
<path class="t" d="M1628 445.6 L1650.1 421.9"/>
<path class="t" d="M1628 445.6 L1648 424.5"/>
<path class="t" d="M1663 413 C1666.8 412 1693.2 403.6 1700.7 403.1 C1708.2 402.6 1734.5 407.5 1738.3 408"/>
<path class="t" d="M1753 419 C1756.3 421.8 1767.4 430.3 1772.6 435.8 C1777.8 441.3 1781.4 446.7 1784.1 452.1 C1786.8 457.5 1787.8 463.5 1789 468.4 C1790.2 473.3 1790.7 479.3 1791 481.5"/>
<path class="t" d="M1792 496 C1791.4 497.4 1790.9 497.9 1789 502.8 C1787.1 507.7 1787.1 504.4 1782.5 520.7 C1777.9 537 1769.7 570.6 1766.1 584.5 C1762.5 598.4 1766.1 587.9 1764.5 590.2 C1762.9 592.5 1761.2 594 1757.9 595.9 C1754.6 597.8 1752.7 598.3 1748.1 599.7 C1743.5 601.1 1741.2 602 1735 603 C1728.8 604 1720.8 604.3 1717.3 604.6"/>
<circle class="t" cx="1656.1" cy="416.1" r="7"/>
<circle class="t" cx="1656.1" cy="416.1" r="4.5"/>
<path class="t" d="M1652.1 412.1 L1660.1 420.1"/>
<path class="t" d="M1650.1 416.5 L1662.1 416.5"/>
<circle class="t" cx="1746.2" cy="413.4" r="7"/>
<circle class="t" cx="1746.2" cy="413.4" r="4.5"/>
<path class="t" d="M1742.2 409.4 L1750.2 417.4"/>
<path class="t" d="M1740.2 413.5 L1752.2 413.5"/>
<circle class="t" cx="1793.4" cy="488.9" r="7"/>
<circle class="t" cx="1793.4" cy="488.9" r="4.5"/>
<path class="t" d="M1789.4 484.9 L1797.4 492.9"/>
<path class="t" d="M1787.4 488.5 L1799.4 488.5"/>
<path class="t" d="M1640 441 C1644.4 437.4 1643.9 434.2 1656.6 427.6 C1669.3 421 1672 419.4 1687.7 416.1 C1703.4 412.8 1701 413.3 1715.4 415.3 C1729.8 417.3 1729.4 417.6 1741.6 423.5 C1753.8 429.4 1751.6 428.9 1761.2 437.4 C1770.8 445.9 1771 445.4 1777.5 455.4 C1784 465.4 1783.1 466.3 1785.7 475 C1788.3 483.7 1786.9 484.5 1787.4 488"/>
<path class="t" d="M1650 436 C1653.7 433.6 1653.9 431.4 1664 427 C1674.1 422.6 1674.7 421.6 1688 419.5 C1701.3 417.4 1700.4 417.1 1714 419 C1727.6 420.9 1727.3 420.9 1739 426.5 C1750.7 432.1 1748.9 431.9 1758 440 C1767.1 448.1 1766.9 447.7 1773 457 C1779.1 466.3 1778.2 467.8 1781 475 C1783.8 482.2 1782.8 481.6 1783.5 484"/>
<path class="t" d="M1674.6 437.4 C1676.5 435.9 1678.2 432.8 1682.8 430.9 C1687.4 429 1688.9 429 1694.2 429.2 C1699.5 429.4 1696.5 427.9 1705.6 431.7 C1714.7 435.5 1721.9 438.6 1733.4 445.6 C1744.9 452.6 1747.3 456.2 1754.7 461.9 C1762.1 467.6 1762.3 466.1 1765.3 470.1 C1768.3 474.1 1769.4 471.9 1767.7 479.1 C1766 486.3 1763.6 489.5 1757.9 501.1 C1752.2 512.7 1750.2 519.4 1743.2 528.9 C1736.2 538.4 1731.3 538.9 1727.7 542"/>
<path class="t" d="M1704 440.7 C1708.4 441.6 1712.1 439.1 1720.4 443.9 C1728.7 448.7 1729 450.3 1735.1 458.6 C1741.2 466.9 1740.4 466.3 1743.2 475 C1746 483.7 1746.1 482.6 1745.7 491.3 C1745.3 500 1744.9 500.3 1741.6 507.7 C1738.3 515.1 1737.1 513.4 1733.4 519.1 C1729.7 524.8 1729.2 526.3 1727.7 528.9"/>
<path class="t" d="M1690 441 C1694.3 442.3 1697.5 441.5 1706 446 C1714.5 450.5 1715.1 450.3 1722 458 C1728.9 465.7 1728.8 465.9 1732 475 C1735.2 484.1 1734.5 483.2 1734 492 C1733.5 500.8 1731.1 503.7 1730 508"/>
<path class="t" d="M1727.7 535 C1729.8 532.5 1736 526.2 1740 520 C1744 513.8 1749.2 505 1752 498 C1754.8 491 1756.2 481.3 1757 478"/>
<path class="m" d="M1762.4 480.5 L1757.4 486.4 L1749.7 485.1 L1747 477.7 L1752 471.8 L1759.7 473.1 Z"/>
<circle class="t" cx="1754.7" cy="479.1" r="6"/>
<path class="t" d="M1696.9 438.2 L1693.9 443.5 L1687.9 443.5 L1684.9 438.2 L1687.9 433.5 L1693.9 433.5 Z"/>
<path class="t" d="M1694.2 494.6 L1767.7 475"/>
<path d="M1686.9 428.4 L1722 563.2" stroke="#111" stroke-width="1.3" fill="none"/>
<path class="m" d="M1598.6 556.7 L1600.3 562.2 L1637.5 664.2 L1637.5 688.5 L1616.3 688.5"/>
<path class="m" d="M1722 563.2 L1705.5 664.2 L1705.5 684.3 L1640.4 809.5 L1613.6 809.5"/>
<path d="M1597.5 556 V563 M1722 552 V565" stroke="#111" stroke-width="2" fill="none"/>
<path class="t" d="M1643.7 651.8 H1699 L1705.6 655 M1637.7 658 L1643.7 651.8 M1637.7 680 Q1638 684 1644 686.9 H1697 Q1704 685 1705.6 678"/>
<path class="m" d="M1662.1 670.2 L1657.6 677.5 L1648.6 677.5 L1644.1 670.2 L1648.6 662.5 L1657.6 662.5 Z"/>
<circle class="m" cx="1653.1" cy="670.2" r="6.5"/>
<path class="m" d="M1645.9 670.5 L1660.3 670.5"/>
<path class="m" d="M1653.5 663 L1653.5 677.4"/>
<path class="m" d="M1697.2 670.2 L1692.7 677.5 L1683.7 677.5 L1679.2 670.2 L1683.7 662.5 L1692.7 662.5 Z"/>
<circle class="m" cx="1688.2" cy="670.2" r="6.5"/>
<path class="m" d="M1681 670.5 L1695.4 670.5"/>
<path class="m" d="M1688.5 663 L1688.5 677.4"/>
<path class="t" d="M1662 670.5 L1680 670.5"/>
<path class="t" d="M1616.3 688.6 L1613.6 809"/>
<path class="t" d="M1626.5 688.6 L1626.5 809"/>
<path class="t" d="M1630.5 688.6 L1630.5 809"/>
<rect class="t" x="1630.5" y="696.5" width="8" height="13" rx="1.5"/>
<path class="t" d="M1630.4 700.5 L1638 700.5"/>
<path class="t" d="M1630.4 704.5 L1638 704.5"/>
<path class="t" d="M1612 702.5 L1642 702.5"/>
<rect class="t" x="1630.5" y="788.5" width="8" height="13" rx="1.5"/>
<path class="t" d="M1630.4 793.5 L1638 793.5"/>
<path class="t" d="M1630.4 797.5 L1638 797.5"/>
<path class="t" d="M1612 795.5 L1642 795.5"/>
<rect class="t" x="1713.5" y="630.5" width="65" height="14"/>
<path class="t" d="M1717.5 630.5 L1717.5 643.5"/>
<path class="t" d="M1720.5 630.5 L1720.5 643.5"/>
<path class="t" d="M1724.5 630.5 L1724.5 643.5"/>
<path class="t" d="M1728.5 630.5 L1728.5 643.5"/>
<path class="t" d="M1732.5 630.5 L1732.5 643.5"/>
<path class="t" d="M1736.5 630.5 L1736.5 643.5"/>
<path class="t" d="M1740.5 630.5 L1740.5 643.5"/>
<path class="t" d="M1744.5 630.5 L1744.5 643.5"/>
<path class="t" d="M1747.5 630.5 L1747.5 643.5"/>
<path class="t" d="M1751.5 630.5 L1751.5 643.5"/>
<path class="t" d="M1755.5 630.5 L1755.5 643.5"/>
<path class="t" d="M1759.5 630.5 L1759.5 643.5"/>
<path class="t" d="M1763.5 630.5 L1763.5 643.5"/>
<path class="t" d="M1767.5 630.5 L1767.5 643.5"/>
<path class="t" d="M1770.5 630.5 L1770.5 643.5"/>
<path class="t" d="M1774.5 630.5 L1774.5 643.5"/>
<path class="t" d="M1713.3 630 L1730.7 616.5 L1761.8 616.5 L1778.6 630"/>
<rect class="t" x="1715.5" y="644.5" width="60" height="6"/>
<rect class="t" x="1720.5" y="650.5" width="50" height="9"/>
<path class="t" d="M1725.5 659.2 L1725.5 778"/>
<path class="t" d="M1767.5 659.2 L1767.5 774.6"/>
<path class="t" d="M1727.5 659.2 L1727.5 777"/>
<path class="t" d="M1765.5 659.2 L1765.5 774.6"/>
<path class="t" d="M1725 778 L1734 774.5 L1767.5 774.5"/>
<path class="c" d="M1745.5 613.3 L1745.5 778"/>
<circle cx="1686.2" cy="599" r="1.6" fill="#333"/>
<path class="t" d="M1686.2 599.5 L1816 600"/>
<circle cx="1660.5" cy="726.1" r="1.6" fill="#333"/>
<path class="t" d="M1660.5 726.5 L1816 727.1"/>
<circle cx="1528.3" cy="769.6" r="1.6" fill="#333"/>
<path class="t" d="M1528.3 770 L1816 770.6"/>
<text class="wm" transform="translate(0 720.3) scale(0.92 1)" x="600.6 734.8 869.9 938.8 1045.6 1181.2 1311.7 1380.3" y="0" font-size="214">AutoSoft</text>
<path class="t" d="M394.5 198 L392.1 336.2"/>
<circle cx="392.3" cy="334" r="1.2" fill="#333"/>
<path class="t" d="M435.6 198 L485.1 418.2"/>
<path class="t" d="M492.1 198 L500.8 287.7"/>
<circle cx="500.8" cy="288" r="1.5" fill="#333"/>
<path class="t" d="M532.9 198 L505.2 356 L491.5 428"/>
<path class="t" d="M582.3 198 L572.5 288"/>
<circle cx="572.5" cy="288" r="1.6" fill="#333"/>
<path class="t" d="M629.2 196 L505.2 424.9"/>
<path class="t" d="M695 196 L506.8 430.3"/>
<path class="t" d="M161.6 282 L359.7 312.8"/>
<path class="t" d="M161.6 306.1 L359.7 323.9"/>
<path class="t" d="M161.6 328.5 L364.7 328.5"/>
<path class="t" d="M21.7 436.5 L50 436.5"/>
<path d="M53.5 436 L42.5 433.8 V438.2 Z" fill="#222"/>
<path class="t" d="M31.8 477.5 L84.6 477.5"/>
<path class="t" d="M31.8 500.5 L84.6 500.5"/>
<path class="t" d="M31.8 523.5 L84.6 523.5"/>
<path class="t" d="M84.5 477.8 L84.5 523.7"/>
<path class="t" d="M84.6 477.8 L252.6 563.8"/>
<path class="t" d="M72.9 561.5 L255.9 588.9"/>
<path class="t" d="M767.2 166.5 L983 166.5"/>
<path class="t" d="M767.2 166.3 L843 355.9"/>
<circle cx="843" cy="355.9" r="1.4" fill="#333"/>
<path class="t" d="M693.6 719.5 L951.2 719.5"/>
<path class="t" d="M693.6 719.4 L576.5 521"/>
<path class="m" d="M843.5 919.6 L843.5 850.5 L860.5 850.5 L860.5 918.4"/>
<path class="m" d="M862.5 851.6 L862.5 917.5"/>
<path class="t" d="M860.8 851.5 L896.7 851.5"/>
<path class="t" d="M896.7 851.6 C895.4 857.6 894.4 863.7 891.7 874 C889 884.3 890.2 882.3 886.5 890.4 C882.8 898.5 882.5 898.2 877.7 904.4 C872.9 910.6 872.9 910 868.4 913.7 C863.9 917.4 865.2 916.6 860.8 918.4 C856.4 920.2 856.7 920.2 852 920.5 C847.3 920.8 848.9 921.7 843.3 919.6 C837.7 917.5 836.8 917.2 831 912.5 C825.2 907.8 828.3 910.3 821.7 902 C815.1 893.7 810.4 886.9 806.3 881.4"/>
<path class="m" d="M806.3 881.5 L827.5 881.5"/>
<path class="m" d="M829 856.5 H837.5 Q839 856.5 839 858 V884 Q839 885.7 837.5 885.7 H829 Q827.5 885.7 827.5 884 V858 Q827.5 856.5 829 856.5 Z"/>
<path class="m" d="M827.5 863.5 L839 863.5"/>
<path class="m" d="M827.5 878.5 L839 878.5"/>
<path class="t" d="M829.5 856.5 L829.5 885.7"/>
<rect class="t" x="839.5" y="858.5" width="4" height="25"/>
<path d="M820.5 870.8 H875.2" stroke="#444" stroke-width="1.1" stroke-dasharray="16 3 2 3" fill="none"/>
<path class="t" d="M782 875.5 L834.5 875.5"/>
<circle cx="834.5" cy="875.4" r="1.6" fill="#333"/>
<path class="t" d="M861.4 879.5 L915.7 879.5"/>
<circle cx="861.4" cy="879.6" r="1.5" fill="#333"/>
<text transform="translate(387.5 196.0) scale(0.772 1)" font-size="21.0">15</text>
<text transform="translate(422.8 196.0) scale(0.890 1)" font-size="20.5">22x2</text>
<text transform="translate(483.0 196.0) scale(0.756 1)" font-size="20.5">16</text>
<text transform="translate(517.7 196.0) scale(0.901 1)" font-size="20.5">29x4</text>
<text transform="translate(577.3 196.0) scale(0.856 1)" font-size="20.5">3</text>
<text transform="translate(606.9 193.8) scale(0.843 1)" font-size="21.7">32x2</text>
<text transform="translate(669.2 194.0) scale(0.843 1)" font-size="21.7">26x2</text>
<text transform="translate(138.5 289.4) scale(0.864 1)" font-size="21.3">27</text>
<text transform="translate(137.3 312.8) scale(0.919 1)" font-size="21.1">33</text>
<text transform="translate(137.4 336.2) scale(0.906 1)" font-size="21.1">30</text>
<text transform="translate(24.7 430.0) scale(0.955 1)" font-size="18.5">Б</text>
<text transform="translate(38.8 475.2) scale(0.884 1)" font-size="20.9">23x4</text>
<text transform="translate(47.1 497.9) scale(0.869 1)" font-size="20.9">30</text>
<text transform="translate(47.1 521.0) scale(0.881 1)" font-size="20.9">33</text>
<text transform="translate(48.9 569.8) scale(0.895 1)" font-size="21.2">27</text>
<text fill="#555" transform="translate(766.4 163.3) scale(0.880 1)" font-size="23.0">Выпускной фланец</text>
<text fill="#555" transform="translate(779.9 189.0) scale(0.887 1)" font-size="23.0">турбокомпрессора</text>
<text transform="translate(856.7 228.0) scale(0.810 1)" font-size="21.1">А</text>
<text fill="#666" transform="translate(697.8 717.7) scale(0.910 1)" font-size="22.9">Болты выпускного</text>
<text fill="#666" transform="translate(697.9 736.1) scale(0.935 1)" font-size="23.0">коллектора двигателя</text>
<text transform="translate(846.6 811.8) scale(0.847 1)" font-size="19.0">А</text>
<text transform="translate(753.4 881.9) scale(0.913 1)" font-size="21.2">38</text>
<text transform="translate(923.5 886.6) scale(0.817 1)" font-size="21.9">37</text>
<text transform="translate(1413.2 54.2) scale(1.031 1)" font-size="29.7">Б</text>
<text transform="translate(1822.5 610.7) scale(0.820 1)" font-size="29.0">7</text>
<text transform="translate(1818.8 735.1) scale(0.733 1)" font-size="27.8">10</text>
<text transform="translate(1824.3 778.0) scale(0.831 1)" font-size="28.5">2</text>
<text transform="translate(1821.9 954.4) scale(0.899 1)" font-size="27.9">24</text>
<text transform="translate(1821.8 986.1) scale(0.915 1)" font-size="27.8">30</text>
<text transform="translate(1821.8 1019.0) scale(0.906 1)" font-size="28.5">33</text>
</svg>
</body></html>
